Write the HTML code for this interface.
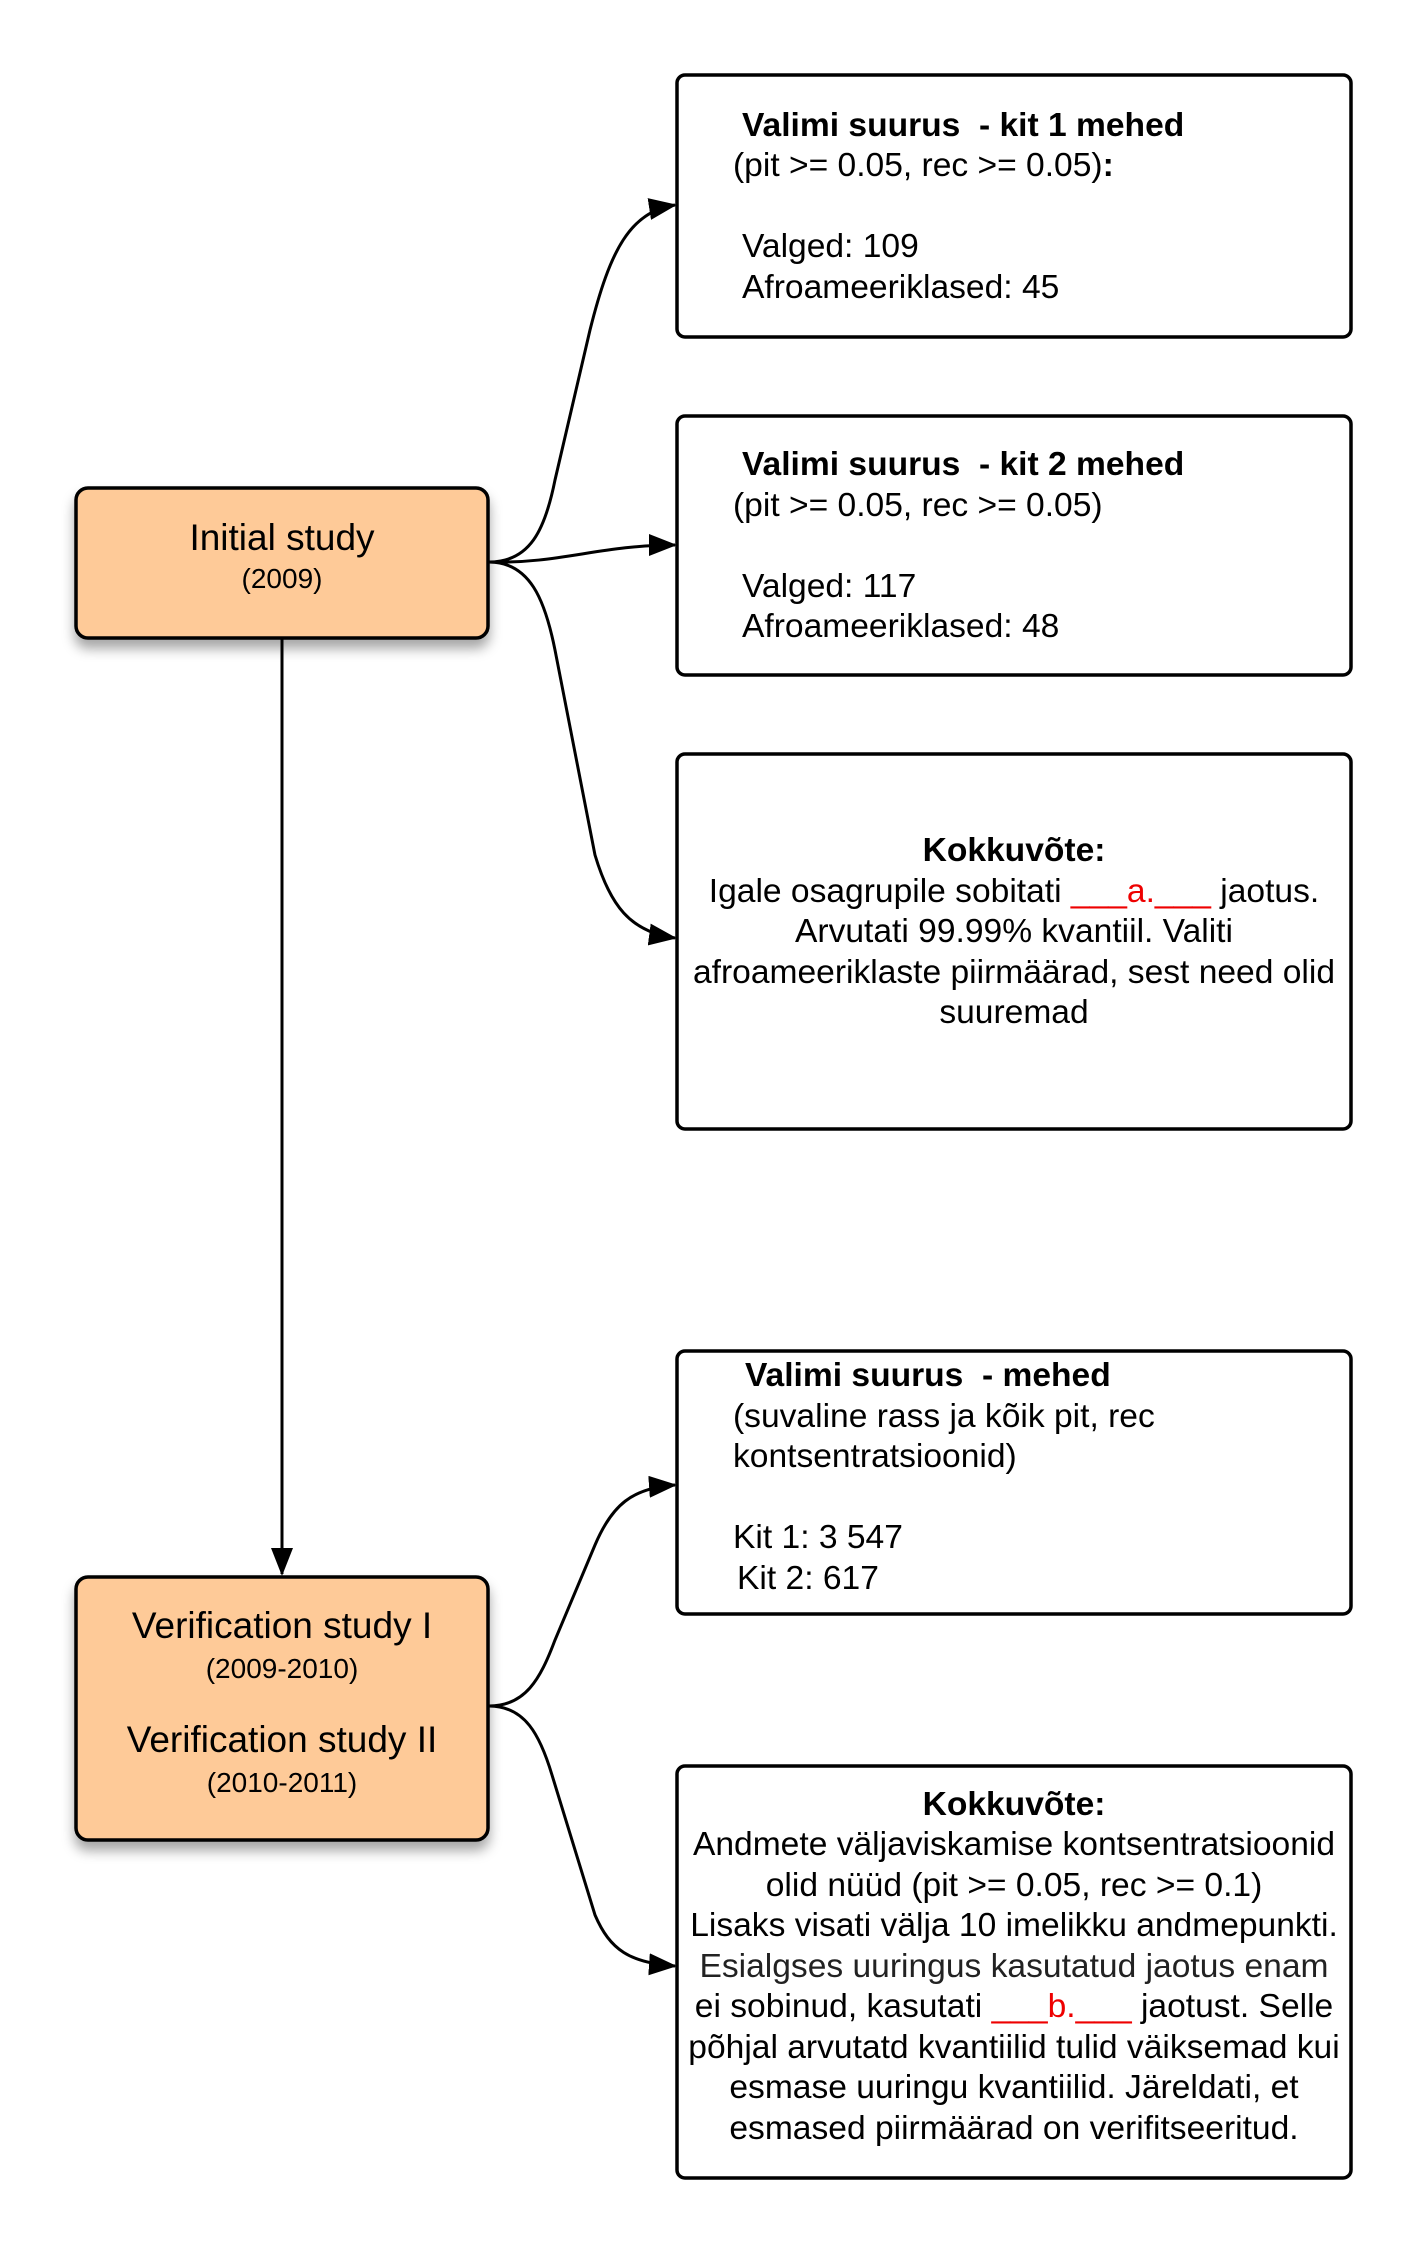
<!DOCTYPE html>
<html><head><meta charset="utf-8"><style>
html,body{margin:0;padding:0;background:#fff}
svg{display:block}
text{font-family:"Liberation Sans",Arial,sans-serif;fill:#000;white-space:pre}
.t{font-size:33.6px}
.b{font-weight:bold}
.r{fill:#e00}
</style></head><body>
<svg width="1425" height="2250" viewBox="0 0 1425 2250" xmlns="http://www.w3.org/2000/svg" xml:space="preserve">
<defs>
<marker id="ah" markerWidth="28" markerHeight="22" refX="26" refY="11" orient="auto" markerUnits="userSpaceOnUse">
<path d="M0,0 L28,11 L0,22 Z" fill="#000"/>
</marker>
<filter id="sh" x="-20%" y="-20%" width="140%" height="160%">
<feDropShadow dx="0" dy="9" stdDeviation="6" flood-color="#000" flood-opacity="0.35"/>
</filter>
</defs>

<g fill="none" stroke="#000" stroke-width="3">
<path d="M489,562 C530,562 545,530 555,480 L590,330 C610,250 630,212 675,205" marker-end="url(#ah)"/>
<path d="M489,562 C560,564 600,545 675,545" marker-end="url(#ah)"/>
<path d="M489,562 C530,562 545,600 555,650 L595,855 C610,905 630,932 675,938" marker-end="url(#ah)"/>
<path d="M282,638 L282,1574" marker-end="url(#ah)"/>
<path d="M489,1706 C525,1706 540,1680 555,1640 L595,1545 C612,1505 632,1488 675,1485" marker-end="url(#ah)"/>
<path d="M489,1706 C525,1706 540,1735 552,1775 L595,1915 C610,1950 630,1963 675,1966" marker-end="url(#ah)"/>
</g>

<rect x="76" y="488" width="412" height="150" rx="12" fill="#FECA98" stroke="#000" stroke-width="3.5" filter="url(#sh)"/>
<rect x="76" y="1577" width="412" height="263" rx="12" fill="#FECA98" stroke="#000" stroke-width="3.5" filter="url(#sh)"/>

<text x="282" y="550" font-size="37" text-anchor="middle">Initial study</text>
<text x="282" y="588" font-size="28" text-anchor="middle">(2009)</text>
<text x="282" y="1638" font-size="37" text-anchor="middle">Verification study I</text>
<text x="282" y="1678" font-size="28" text-anchor="middle">(2009-2010)</text>
<text x="282" y="1752" font-size="37" text-anchor="middle">Verification study II</text>
<text x="282" y="1792" font-size="28" text-anchor="middle">(2010-2011)</text>

<g fill="#fff" stroke="#000" stroke-width="3.5">
<rect x="677" y="75" width="674" height="262" rx="8"/>
<rect x="677" y="416" width="674" height="259" rx="8"/>
<rect x="677" y="754" width="674" height="375" rx="8"/>
<rect x="677" y="1351" width="674" height="263" rx="8"/>
<rect x="677" y="1766" width="674" height="412" rx="8"/>
</g>

<text class="t b" x="742" y="136">Valimi suurus  - kit 1 mehed</text>
<text class="t" x="733" y="176">(pit &gt;= 0.05, rec &gt;= 0.05)<tspan class="b">:</tspan></text>
<text class="t" x="742" y="257">Valged: 109</text>
<text class="t" x="742" y="298">Afroameeriklased: 45</text>

<text class="t b" x="742" y="475">Valimi suurus  - kit 2 mehed</text>
<text class="t" x="733" y="516">(pit &gt;= 0.05, rec &gt;= 0.05)</text>
<text class="t" x="742" y="597">Valged: 117</text>
<text class="t" x="742" y="637">Afroameeriklased: 48</text>

<g text-anchor="middle">
<text class="t b" x="1014" y="861">Kokkuvõte:</text>
<text class="t" x="1014" y="902">Igale osagrupile sobitati <tspan class="r">___a.___</tspan> jaotus.</text>
<text class="t" x="1014" y="942">Arvutati 99.99% kvantiil. Valiti</text>
<text class="t" x="1014" y="983">afroameeriklaste piirmäärad, sest need olid</text>
<text class="t" x="1014" y="1023">suuremad</text>
</g>

<text class="t b" x="745" y="1386">Valimi suurus  - mehed</text>
<text class="t" x="733" y="1427">(suvaline rass ja kõik pit, rec</text>
<text class="t" x="733" y="1467">kontsentratsioonid)</text>
<text class="t" x="733" y="1548">Kit 1: 3 547</text>
<text class="t" x="737" y="1589">Kit 2: 617</text>

<g text-anchor="middle">
<text class="t b" x="1014" y="1815">Kokkuvõte:</text>
<text class="t" x="1014" y="1855">Andmete väljaviskamise kontsentratsioonid</text>
<text class="t" x="1014" y="1896">olid nüüd (pit &gt;= 0.05, rec &gt;= 0.1)</text>
<text class="t" x="1014" y="1936">Lisaks visati välja 10 imelikku andmepunkti.</text>
<text class="t" x="1014" y="1977" style="fill:#222">Esialgses uuringus kasutatud jaotus enam</text>
<text class="t" x="1014" y="2017">ei sobinud, kasutati <tspan class="r">___b.___</tspan> jaotust. Selle</text>
<text class="t" x="1014" y="2058">põhjal arvutatd kvantiilid tulid väiksemad kui</text>
<text class="t" x="1014" y="2098">esmase uuringu kvantiilid. Järeldati, et</text>
<text class="t" x="1014" y="2139">esmased piirmäärad on verifitseeritud.</text>
</g>
</svg>
</body></html>
